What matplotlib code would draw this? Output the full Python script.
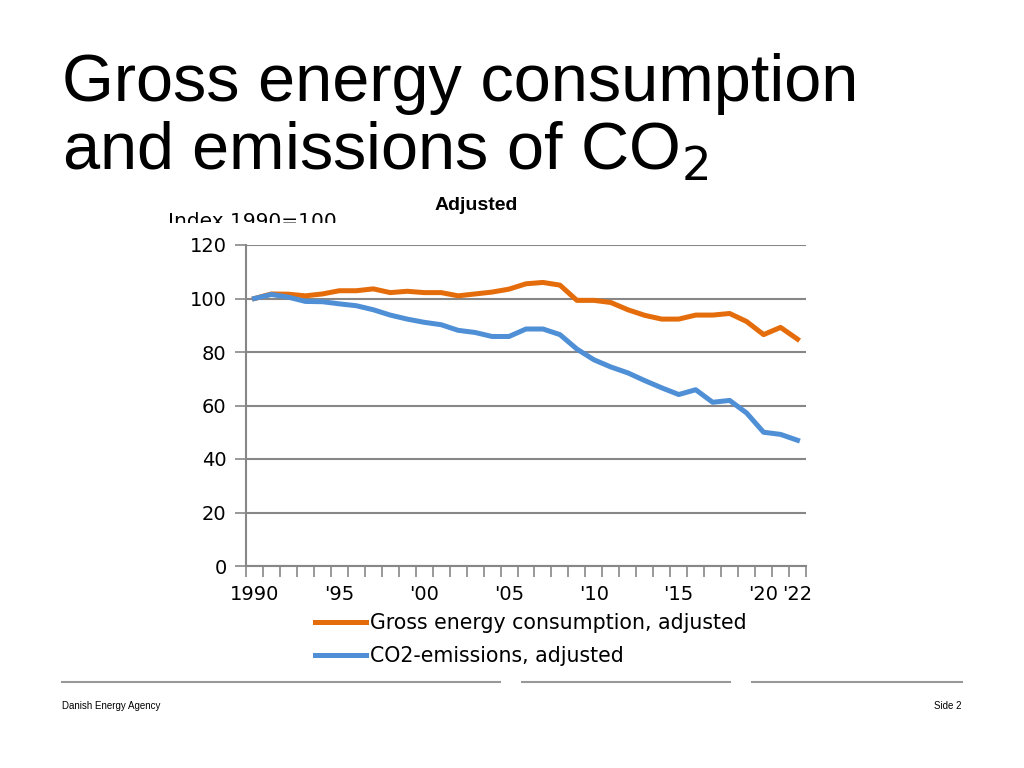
import matplotlib.pyplot as plt
from matplotlib.patches import Rectangle
from matplotlib.lines import Line2D

# data (index 1990=100)
years = list(range(1990, 2023))
gross_energy = [100, 101.7, 101.6, 101.0, 101.7, 102.9, 102.9, 103.6, 102.2, 102.7,
                102.2, 102.2, 101.0, 101.7, 102.4, 103.5, 105.5, 106.0, 105.0, 99.3,
                99.3, 98.5, 95.8, 93.7, 92.3, 92.3, 93.8, 93.8, 94.4, 91.4,
                86.5, 89.2, 84.8]
co2_emissions = [100, 101.5, 100.5, 98.9, 98.8, 98.0, 97.3, 95.8, 93.8, 92.3,
                 91.1, 90.2, 88.1, 87.3, 85.8, 85.8, 88.6, 88.6, 86.5, 81.1,
                 77.1, 74.4, 72.2, 69.3, 66.6, 64.1, 65.9, 61.2, 61.9, 57.2,
                 50.0, 49.2, 47.0]
tick_pos = [0, 5, 10, 15, 20, 25, 30, 32]
tick_labels = ['1990', "'95", "'00", "'05", "'10", "'15", "'20", "'22"]

orange = '#E46C0A'
blue = '#4F8FD6'
grey = '#878787'

fig = plt.figure(figsize=(10.24, 7.68), dpi=100)

# slide title
fig.text(62/1024, 1 - 101/768, 'Gross energy consumption', fontsize=48,
         family='Liberation Sans', color='black')
fig.text(62/1024, 1 - 170/768, 'and emissions of CO$_2$', fontsize=48,
         family='Liberation Sans', color='black')

# chart
ax = fig.add_axes([246/1024, 1 - 566/768, 560/1024, 321/768])
x = list(range(len(years)))
ax.plot(x, gross_energy, color=orange, lw=3.6, solid_joinstyle='round',
        label='Gross energy consumption, adjusted', zorder=3)
ax.plot(x, co2_emissions, color=blue, lw=3.6, solid_joinstyle='round',
        label='CO2-emissions, adjusted', zorder=3)

ax.set_xlim(-0.5, len(years) - 0.5)
ax.set_ylim(0, 120)
ax.set_yticks(range(0, 121, 20))
ax.yaxis.grid(True, color=grey, lw=1.5)
ax.set_axisbelow(True)
ax.set_xticks(tick_pos)
ax.set_xticklabels(tick_labels)
ax.set_xticks([i - 0.5 for i in range(len(years) + 1)], minor=True)
ax.tick_params(axis='x', which='major', length=0, pad=14, labelsize=14)
ax.tick_params(axis='x', which='minor', length=8, width=1.2, color=grey, direction='out')
ax.tick_params(axis='y', length=8, width=1.2, color=grey, labelsize=14, pad=6)
for s in ['top', 'right']:
    ax.spines[s].set_visible(False)
for s in ['left', 'bottom']:
    ax.spines[s].set_color(grey)
    ax.spines[s].set_linewidth(1.5)

ax.legend(loc='center left', bbox_to_anchor=(0.123, -0.229), frameon=False,
          fontsize=14.8, handlelength=2.5, handletextpad=0.2, labelspacing=0.62,
          borderaxespad=0, borderpad=0)

fig.text(476/1024, 1 - 205/768, 'Adjusted', fontsize=14, fontweight='bold',
         family='Liberation Sans', ha='center', va='center')
idx = fig.text(168/1024, 1 - 227/768, 'Index 1990=100', fontsize=14.5,
               ha='left', va='baseline')
clip = Rectangle((0, 1 - 223/768), 1, 223/768, transform=fig.transFigure)
idx.set_clip_path(clip)

# footer
for x0, x1 in [(62, 500), (522, 730), (752, 962)]:
    fig.add_artist(Line2D([x0/1024, x1/1024], [1 - 682/768, 1 - 682/768],
                          transform=fig.transFigure, color='#999999', lw=1.5))
fig.text(62/1024, 1 - 706/768, 'Danish Energy Agency', fontsize=7,
         family='Liberation Sans', va='center')
fig.text(962/1024, 1 - 706/768, 'Side 2', fontsize=7,
         family='Liberation Sans', va='center', ha='right')

fig.savefig('out.png', dpi=100)
